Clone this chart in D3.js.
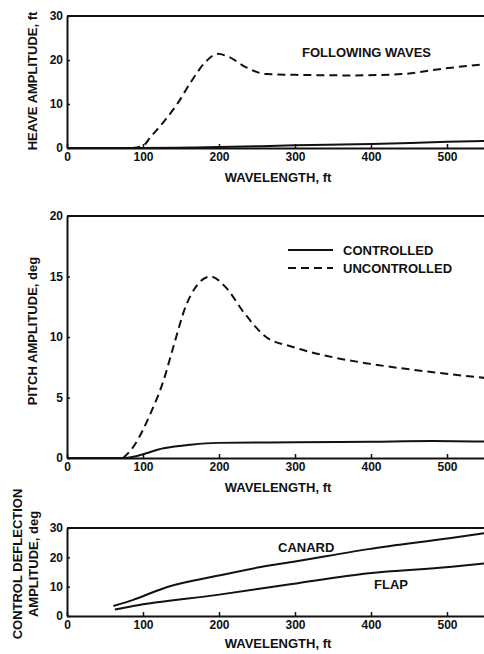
<!DOCTYPE html>
<html>
<head>
<script src="https://d3js.org/d3.v7.min.js"></script>
<style>
  body { margin: 0; background: #fff; }
  svg { display: block; }
  text { font-family: "Liberation Sans", Arial, Helvetica, sans-serif; font-weight: bold; fill: #111; }
  .curve { fill: none; stroke: #111; stroke-width: 2px; }
  .dashed { stroke-dasharray: 8 5; }
  .frame { stroke: #111; stroke-width: 2px; fill: none; }
</style>
</head>
<body>
<div id="chart"></div>
<script>
// wavelength ticks (ft)
var xTicks = [0, 100, 200, 300, 400, 500];

// heave amplitude, ft (following waves)
var heaveUncX = [86, 100, 110, 127, 145, 163, 182, 198, 213, 235, 262, 308, 374, 440, 493, 552];
var heaveUncY = [0, 0.5, 2.5, 5.9, 10, 15, 19.5, 21.4, 20.7, 18.4, 16.8, 16.6, 16.5, 16.8, 18, 19.1];
var heaveConX = [0, 100, 200, 300, 400, 500, 552];
var heaveConY = [0, 0, 0.2, 0.6, 0.9, 1.4, 1.6];

// pitch amplitude, deg
var pitchUncX = [74, 87, 110, 127, 140, 156, 169, 189, 209, 233, 262, 296, 352, 397, 454, 552];
var pitchUncY = [0, 0.9, 3.7, 6.4, 9.2, 12.5, 14.1, 15, 14.1, 12, 10, 9.2, 8.3, 7.8, 7.3, 6.6];
var pitchConX = [0, 77, 87, 127, 163, 198, 300, 400, 480, 552];
var pitchConY = [0, 0, 0.1, 0.8, 1.1, 1.25, 1.3, 1.35, 1.4, 1.35];

// control deflection amplitude, deg
var canardX = [61, 87, 132, 198, 255, 296, 397, 503, 552];
var canardY = [3.4, 5.5, 9.9, 13.7, 16.7, 18.4, 22.8, 26.5, 28.3];
var flapX = [63, 87, 198, 296, 397, 503, 552];
var flapY = [2.2, 3.4, 7.2, 10.9, 14.6, 16.7, 18];

var width = 484, height = 654;

var svg = d3.select("#chart").append("svg")
    .attr("width", width)
    .attr("height", height);

var x = d3.scaleLinear().domain([0, 560]).range([67, 67 + 560 * 0.76]);

function zip(xs, ys) {
    return xs.map(function (d, i) { return [d, ys[i]]; });
}

function panel(yDomain, yRange, yTicks, xTitleY) {
    var y = d3.scaleLinear().domain(yDomain).range(yRange);
    var g = svg.append("g");

    // top edge of the frame (right side runs off the page)
    g.append("path").attr("class", "frame")
        .attr("d", "M" + x(0) + "," + y(yDomain[1]) + "H" + width);

    var xAxis = d3.axisBottom(x).tickValues(xTicks).tickSizeInner(-4).tickSizeOuter(0).tickPadding(4);
    var xg = g.append("g").attr("transform", "translate(0," + y(0) + ")").call(xAxis);
    var yAxis = d3.axisLeft(y).tickValues(yTicks).tickSizeInner(-3).tickSizeOuter(0).tickPadding(4);
    var yg = g.append("g").attr("transform", "translate(" + x(0) + ",0)").call(yAxis);

    [xg, yg].forEach(function (a) {
        a.select(".domain").attr("stroke", "#111").attr("stroke-width", 2);
        a.selectAll(".tick line").attr("stroke", "#111").attr("stroke-width", 1.5);
        a.selectAll(".tick text").style("font-size", "12px").attr("fill", "#111");
    });

    g.append("text")
        .attr("x", 278).attr("y", xTitleY)
        .attr("text-anchor", "middle")
        .style("font-size", "13px")
        .text("WAVELENGTH, ft");

    return y;
}

function curve(y, xs, ys, dashed) {
    var line = d3.line()
        .x(function (d) { return x(d[0]); })
        .y(function (d) { return y(d[1]); })
        .curve(d3.curveMonotoneX);
    svg.append("path")
        .datum(zip(xs, ys))
        .attr("class", "curve" + (dashed ? " dashed" : ""))
        .attr("d", line);
}

function yTitle(lines, cx, cy) {
    var t = svg.append("text")
        .attr("transform", "translate(" + cx + "," + cy + ") rotate(-90)")
        .attr("text-anchor", "middle")
        .style("font-size", "13px");
    lines.forEach(function (s, i) {
        t.append("tspan").attr("x", 0).attr("dy", i === 0 ? 0 : 16).text(s);
    });
}

// heave
var yH = panel([0, 30], [148, 16], [0, 10, 20, 30], 182);
curve(yH, heaveConX, heaveConY, false);
curve(yH, heaveUncX, heaveUncY, true);
yTitle(["HEAVE AMPLITUDE, ft"], 37, 81);
svg.append("text").attr("x", 302).attr("y", 57).style("font-size", "13px").text("FOLLOWING WAVES");

// pitch
var yP = panel([0, 20], [458, 216], [0, 5, 10, 15, 20], 492);
curve(yP, pitchConX, pitchConY, false);
curve(yP, pitchUncX, pitchUncY, true);
yTitle(["PITCH AMPLITUDE, deg"], 37, 331);

var legend = svg.append("g");
legend.append("line").attr("class", "curve").attr("x1", 288).attr("x2", 333).attr("y1", 250).attr("y2", 250);
legend.append("line").attr("class", "curve dashed").attr("x1", 288).attr("x2", 333).attr("y1", 268).attr("y2", 268);
legend.append("text").attr("x", 343).attr("y", 255).style("font-size", "13px").text("CONTROLLED");
legend.append("text").attr("x", 343).attr("y", 273).style("font-size", "13px").text("UNCONTROLLED");

// control deflection
var yC = panel([0, 30], [616, 528], [0, 10, 20, 30], 648);
curve(yC, canardX, canardY, false);
curve(yC, flapX, flapY, false);
yTitle(["CONTROL DEFLECTION", "AMPLITUDE, deg"], 22, 564);
svg.append("text").attr("x", 278).attr("y", 552).style("font-size", "13px").text("CANARD");
svg.append("text").attr("x", 374).attr("y", 589).style("font-size", "13px").text("FLAP");
</script>
</body>
</html>
